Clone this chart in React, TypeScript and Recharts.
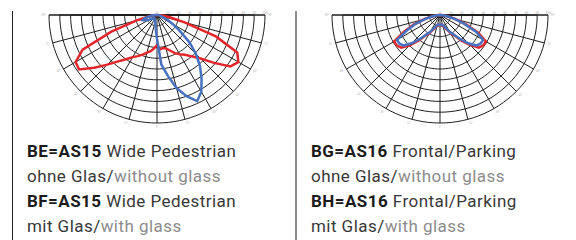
import React from 'react';
import { RadarChart, Radar, PolarGrid, PolarAngleAxis, PolarRadiusAxis } from 'recharts';

// gamma angles from nadir, negative = left half of the diagram
const angles = [
  -90, -85, -80, -75, -70, -65, -60, -55, -50, -45, -40, -35, -30, -25, -20, -15, -10, -5, 0,
  5, 10, 15, 20, 25, 30, 35, 40, 45, 50, 55, 60, 65, 70, 75, 80, 85, 90,
];

// relative intensity, % of outer ring
const pedC0 = [
  0, 3, 8, 20, 45, 76, 87, 88, 76, 65, 56, 50, 45, 42, 39, 36, 34, 31, 28,
  32, 31, 32, 35, 39, 42, 45, 50, 57, 69, 83, 87, 82, 58, 27, 12, 5, 0,
];
const pedC90 = [
  0, 3, 7, 12, 14, 12, 9, 6, 5, 4, 4, 4, 5, 6, 6, 7, 9, 13, 22,
  46, 57, 70, 80, 88, 82, 72, 62, 51, 39, 26, 17, 11, 6, 4, 2, 1, 0,
];
const parkC0 = [
  0, 3, 8, 15, 26, 37, 49, 49, 47, 40, 31, 23, 19, 15, 12, 10, 10, 9, 9,
  9, 10, 10, 12, 15, 19, 23, 31, 39, 47, 49, 49, 39, 26, 15, 8, 3, 0,
];
const parkC90 = [
  0, 3, 7, 14, 24, 34, 46, 46, 44, 37, 29, 22, 18, 14, 11, 10, 9, 9, 9,
  9, 9, 10, 11, 14, 18, 22, 29, 37, 44, 46, 46, 37, 24, 14, 7, 3, 0,
];

const angleTicks = [-90, -75, -60, -45, -30, -15, 0, 15, 30, 45, 60, 75, 90];
const ringTicks = [0, 10, 20, 30, 40, 50, 60, 70, 80, 90, 100];

const RED = '#e3262b';
const BLUE = '#4872c0';

// fine arc so the rings look round (lower half only)
const arc: number[] = [];
for (let a = 180; a <= 360; a += 3) arc.push(a);

const tinyTick = (props: any) => (
  <text x={props.x} y={props.y - 1.5} fontSize={3.5} fill="#aaa" textAnchor="middle">
    {props.payload.value}
  </text>
);

function Polar({ red, blue }: { red: number[]; blue: number[] }) {
  const data = angles.map((a, i) => ({ angle: a, red: red[i], blue: blue[i] }));
  return (
    <RadarChart
      width={290}
      height={130}
      cx={150}
      cy={15}
      outerRadius={108}
      startAngle={180}
      endAngle={360}
      data={data}
      margin={{ top: 0, right: 0, bottom: 0, left: 0 }}
    >
      <PolarGrid gridType="polygon" radialLines={false} polarAngles={arc} stroke="#1e1e1e" strokeWidth={1} />
      <PolarGrid gridType="polygon" polarRadius={[]} stroke="#1e1e1e" strokeWidth={1} />
      <PolarAngleAxis
        dataKey="angle"
        type="number"
        domain={[-90, 90]}
        ticks={angleTicks}
        axisLine={false}
        tickLine={false}
        tickSize={3}
        tick={{ fontSize: 3, fill: '#aaa' }}
        tickFormatter={(v: number) => `${Math.abs(v)}°`}
      />
      <PolarRadiusAxis
        angle={0}
        domain={[0, 100]}
        ticks={ringTicks}
        tickCount={11}
        axisLine={false}
        tickLine={false}
        tick={tinyTick}
      />
      <PolarRadiusAxis
        radiusAxisId="left"
        angle={180}
        domain={[0, 100]}
        ticks={ringTicks}
        tickCount={11}
        axisLine={false}
        tickLine={false}
        tick={tinyTick}
      />
      <Radar dataKey="red" stroke={RED} strokeWidth={2.5} fill="none" dot={false} isAnimationActive={false} />
      <Radar dataKey="blue" stroke={BLUE} strokeWidth={2.5} fill="none" dot={false} isAnimationActive={false} />
    </RadarChart>
  );
}

const txt: React.CSSProperties = {
  position: 'absolute',
  top: 139,
  fontFamily: 'Roboto, sans-serif',
  fontSize: 17,
  lineHeight: '25px',
  letterSpacing: 0.45,
  color: '#383838',
  whiteSpace: 'nowrap',
};
const bold: React.CSSProperties = { fontWeight: 700, color: '#1b1b1b' };
const grey: React.CSSProperties = { color: '#8c8c8c' };

export default function App() {
  return (
    <div style={{ position: 'absolute', left: 0, top: 0, width: 576, height: 240, background: '#fff', overflow: 'hidden' }}>
      <div style={{ position: 'absolute', left: 11.5, top: 11, width: 1.3, height: 229, background: '#222' }} />
      <div style={{ position: 'absolute', left: 295, top: 11, width: 1.5, height: 229, background: '#8a8a8a' }} />

      <div style={{ position: 'absolute', left: 7, top: 0 }}>
        <Polar red={pedC0} blue={pedC90} />
      </div>
      <div style={{ position: 'absolute', left: 290, top: 0 }}>
        <Polar red={parkC0} blue={parkC90} />
      </div>

      <div style={{ ...txt, left: 27 }}>
        <div><span style={bold}>BE=AS15</span> Wide Pedestrian</div>
        <div>ohne Glas/<span style={grey}>without glass</span></div>
        <div><span style={bold}>BF=AS15</span> Wide Pedestrian</div>
        <div>mit Glas/<span style={grey}>with glass</span></div>
      </div>
      <div style={{ ...txt, left: 311 }}>
        <div><span style={bold}>BG=AS16</span> Frontal/Parking</div>
        <div>ohne Glas/<span style={grey}>without glass</span></div>
        <div><span style={bold}>BH=AS16</span> Frontal/Parking</div>
        <div>mit Glas/<span style={grey}>with glass</span></div>
      </div>
    </div>
  );
}
